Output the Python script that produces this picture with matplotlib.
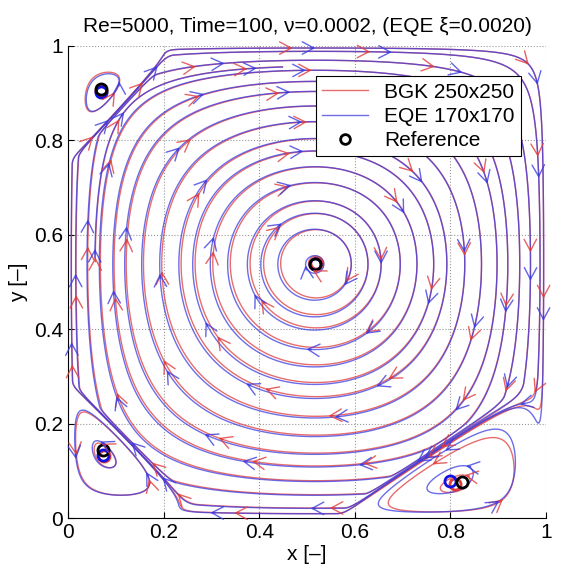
import numpy as np
import matplotlib
matplotlib.use('Agg')
import matplotlib.pyplot as plt
from matplotlib.lines import Line2D

plt.rcParams['font.family'] = ['Liberation Sans', 'DejaVu Sans']

# vortex centres: primary, bottom-left, bottom-right, top-left
ref_x = [0.517, 0.074, 0.824, 0.070]
ref_y = [0.537, 0.143, 0.077, 0.908]
bgk_x = [0.519, 0.076, 0.810, 0.068]
bgk_y = [0.539, 0.132, 0.072, 0.905]
eqe_x = [0.516, 0.074, 0.800, 0.070]
eqe_y = [0.537, 0.134, 0.078, 0.903]

# reach of each corner eddy along its two walls (BL, BR, TL)
eddy_ext_x = [0.30, 0.45, 0.24]
eddy_ext_y = [0.30, 0.32, 0.26]

# streamline crossings right of the primary centre (on its horizontal line)
seed_r = [0.535, 0.593, 0.628, 0.656, 0.695, 0.730, 0.764, 0.792, 0.831,
          0.866, 0.897, 0.921, 0.946, 0.967, 0.987, 0.996]
# streamline points inside the corner eddies (eddy 1 BL, 2 BR, 3 TL)
eddy_seed_x = [0.10, 0.17, 0.84, 0.93, 0.10, 0.17]
eddy_seed_y = [0.115, 0.08, 0.075, 0.075, 0.905, 0.905]
eddy_id = [1, 1, 2, 2, 3, 3]

tick_vals = [0, 0.2, 0.4, 0.6, 0.8, 1]
tick_labels = ['0', '0.2', '0.4', '0.6', '0.8', '1']

n = 401
g = np.linspace(0, 1, n)
X, Y = np.meshgrid(g, g)
corners = [(0, 0), (0, 0), (1, 0), (0, 1)]


def field(cx, cy, K=25.0):
    a = np.log(0.5) / np.log(cx[0])
    b = np.log(0.5) / np.log(cy[0])
    P = np.sin(np.pi * X**a) * np.sin(np.pi * Y**b)
    psi = -P.copy()
    for k in (1, 2, 3):
        ox, oy = corners[k]
        ex, ey = eddy_ext_x[k - 1], eddy_ext_y[k - 1]
        xt = abs(cx[k] - ox) / ex
        yt = abs(cy[k] - oy) / ey
        U = np.abs(X - ox) / ex
        V = np.abs(Y - oy) / ey
        rest = max(1 - xt - yt, 0.05)
        mx, my = 2 * xt / rest, 2 * yt / rest
        Pt = np.sin(np.pi * cx[k]**a) * np.sin(np.pi * cy[k]**b)
        for _ in range(30):
            E = U**mx * V**my * np.clip(1 - U - V, 0, None)**2
            Et = xt**mx * yt**my * rest**2
            B = K * Pt / Et
            loc = np.where((U < 1) & (V < 1), -P + B * E, -np.inf)
            j = np.argmax(loc)
            fu, fv = max(U.flat[j], 1e-3), max(V.flat[j], 1e-3)
            mx *= (xt / fu) ** 0.5
            my *= (yt / fv) ** 0.5
        psi += B * E
    return psi


def at(f, x, y):
    i = int(round(y * (n - 1)))
    j = int(round(x * (n - 1)))
    return f[i, j]


def arrows(ax, cs, u, v, color, spacing, shift):
    for li, segs in enumerate(cs.allsegs):
        for seg in segs:
            if len(seg) < 5:
                continue
            d = np.hypot(np.diff(seg[:, 0]), np.diff(seg[:, 1]))
            s = np.concatenate([[0], np.cumsum(d)])
            if s[-1] < 0.08:
                continue
            off = (0.37 * li + shift) % spacing
            if off > s[-1]:
                off = 0.5 * s[-1]
            for sp in np.arange(off, s[-1] - 0.02, spacing):
                i = int(np.clip(np.searchsorted(s, sp), 1, len(seg) - 2))
                p = seg[i]
                t = seg[i + 1] - seg[i - 1]
                nt = np.hypot(*t)
                if nt == 0:
                    continue
                t = t / nt
                uu, vv = at(u, *p), at(v, *p)
                if t[0] * uu + t[1] * vv < 0:
                    t = -t
                ax.annotate('', xy=p, xytext=p - 0.01 * t,
                            arrowprops=dict(arrowstyle='->,head_length=0.6,head_width=0.32',
                                            color=color, lw=1.0, alpha=0.8,
                                            shrinkA=0, shrinkB=0, mutation_scale=14))


def draw(ax, cx, cy, color, shift):
    psi = field(cx, cy)
    dpdy, dpdx = np.gradient(psi, g, g)
    u, v = dpdy, -dpdx
    lv = np.unique(np.round([at(psi, x, cy[0]) for x in seed_r], 9))
    cs = ax.contour(X, Y, psi, levels=lv, colors=color, linewidths=1.0,
                    alpha=0.75, linestyles='solid')
    arrows(ax, cs, u, v, color, 0.5, shift)
    for k in (1, 2, 3):
        ox, oy = corners[k]
        mask = (np.abs(X - ox) > 0.45) | (np.abs(Y - oy) > 0.45)
        pk = np.ma.masked_where(mask, psi)
        lk = sorted(at(psi, x, y) for x, y, e in zip(eddy_seed_x, eddy_seed_y, eddy_id) if e == k)
        ce = ax.contour(X, Y, pk, levels=lk, colors=color, linewidths=1.0,
                        alpha=0.75, linestyles='solid')
        arrows(ax, ce, u, v, color, 0.3, shift + 0.1 * k)
    return psi


fig = plt.figure(figsize=(5.67, 5.71), dpi=100)
ax = fig.add_axes([0.12, 0.0928, 0.843, 0.827])

red = '#e03c3c'
blue = '#3c3ce0'
draw(ax, bgk_x, bgk_y, red, 0.0)
draw(ax, eqe_x, eqe_y, blue, 0.02)

ax.plot(bgk_x, bgk_y, 'o', ms=8, mew=2, mfc='none', mec=red, ls='none')
ax.plot(eqe_x, eqe_y, 'o', ms=8, mew=2, mfc='none', mec='#1010e0', ls='none')
ax.plot(ref_x, ref_y, 'o', ms=8, mew=2, mfc='none', mec='black', ls='none')

ax.set_xlim(0, 1)
ax.set_ylim(0, 1)
ax.set_xticks(tick_vals)
ax.set_xticklabels(tick_labels)
ax.set_yticks(tick_vals)
ax.set_yticklabels(tick_labels)
ax.tick_params(direction='in', length=4, labelsize=15)
ax.spines['top'].set_visible(False)
ax.spines['right'].set_visible(False)
ax.grid(True, linestyle=':', color='#999999', linewidth=0.8)
ax.set_axisbelow(True)
ax.set_xlabel('x [–]', fontsize=15, labelpad=2)
ax.set_ylabel('y [–]', fontsize=15, labelpad=4)
ax.set_title('Re=5000, Time=100, ν=0.0002, (EQE ξ=0.0020)', fontsize=15, pad=10)

handles = [Line2D([], [], color=red, lw=1, alpha=0.75),
           Line2D([], [], color=blue, lw=1, alpha=0.75),
           Line2D([], [], marker='o', ms=7, mew=2, mfc='none', mec='black', ls='none')]
leg = ax.legend(handles, ['BGK 250x250', 'EQE 170x170', 'Reference'],
                loc='upper right', bbox_to_anchor=(0.948, 0.935), fontsize=15,
                fancybox=False, framealpha=1, edgecolor='black', borderaxespad=0,
                handlelength=2.2, labelspacing=0.25, borderpad=0.3)
leg.get_frame().set_linewidth(0.8)

fig.savefig('out.png', dpi=100)
